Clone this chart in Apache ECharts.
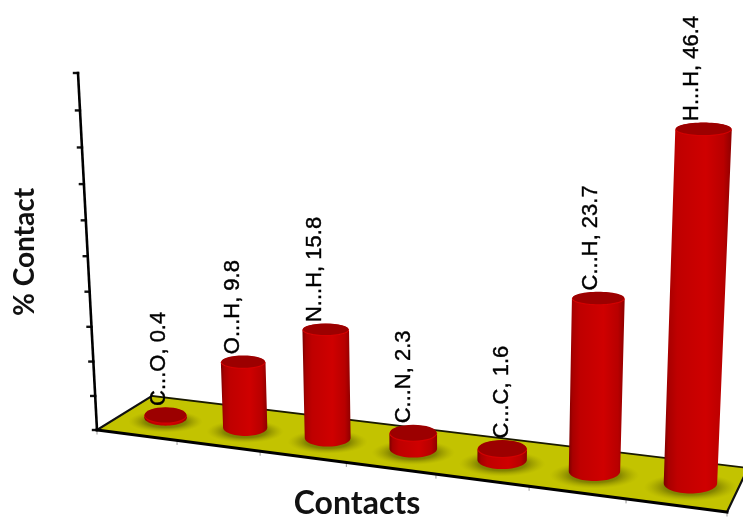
<!DOCTYPE html>
<html><head><meta charset="utf-8">
<style>html,body{margin:0;padding:0;background:#fff}#c{width:743px;height:518px}</style>
<script src="https://cdn.jsdelivr.net/npm/echarts@6/dist/echarts.min.js"></script>
</head><body><div id="c"></div>
<script>
const categories = ['C...O','O...H','N...H','C...N','C...C','C...H','H...H'];
const values = [0.4,9.8,15.8,2.3,1.6,23.7,46.4];
const yTicks = [0,5,10,15,20,25,30,35,40,45,50];
const xTicks = [0,1,2,3,4,5,6,7];

// picture plane: floor corners and the top of the value axis
const C0=[97,430], C1=[727,512], C2=[748,468], C3=[152,396], TOP=[78.5,73], VERT_VP=[448,7025];
const R_S=0.039, YMAX=50, XMAX=7, BAR_H=0.985, BAR_SHIFT=0.02;
const LABEL_NUDGE=[-6,-9,-10,-8,1,-6,-11];

const dx1=C1[0]-C2[0],dx2=C3[0]-C2[0],sx=C0[0]-C1[0]+C2[0]-C3[0];
const dy1=C1[1]-C2[1],dy2=C3[1]-C2[1],sy=C0[1]-C1[1]+C2[1]-C3[1];
const det=dx1*dy2-dx2*dy1;
const ga=(sx*dy2-dx2*sy)/det, gb=(dx1*sy-sx*dy1)/det;
const Ax=C1[0]*(1+ga)-C0[0],Ay=C1[1]*(1+ga)-C0[1];
const Bx=C3[0]*(1+gb)-C0[0],By=C3[1]*(1+gb)-C0[1];
const gc=(TOP[1]-C0[1])/(YMAX*(VERT_VP[1]-TOP[1]));
function project(s,d,h){
  const w=1+ga*s+gb*d+gc*h;
  return [(C0[0]+Ax*s+Bx*d+gc*VERT_VP[0]*h)/w,(C0[1]+Ay*s+By*d+gc*VERT_VP[1]*h)/w];
}
// chart coordinates -> library pixels -> unit fractions -> perspective
function place(api,x,v,d){
  const a=api.coord([0,0]),b=api.coord([XMAX,YMAX]),p=api.coord([x,v]);
  const s=(p[0]-a[0])/(b[0]-a[0]), h=(p[1]-a[1])/(b[1]-a[1])*YMAX;
  return project(s,d,h);
}
const line=(a,b,w,c)=>({type:'line',shape:{x1:a[0],y1:a[1],x2:b[0],y2:b[1]},style:{stroke:c,lineWidth:w,lineCap:'square'}});

function renderFloor(p,api){
  const k=[place(api,0,0,0),place(api,XMAX,0,0),place(api,XMAX,0,1),place(api,0,0,1)];
  return {type:'group',children:[
    {type:'polygon',shape:{points:k},style:{fill:'#c3c300'}},
    line(k[3],k[2],1.8,'#1a1a00'),
    line(k[0],k[3],2.2,'#111'),
    line(k[1],k[2],2.2,'#111')
  ]};
}
function renderShadow(p,api){
  const i=api.value(0), n=i+.5+BAR_SHIFT;
  const c=place(api,n,0,.5), l=place(api,n-R_S*XMAX,0,.5), r=place(api,n+R_S*XMAX,0,.5);
  const rx=(r[0]-l[0])/2;
  return {type:'circle',x:c[0],y:c[1]+4,scaleY:.3,shape:{cx:0,cy:0,r:rx*1.75},
    style:{fill:new echarts.graphic.RadialGradient(.5,.5,.5,[
      {offset:0,color:'rgba(95,95,0,.9)'},{offset:.55,color:'rgba(105,105,0,.7)'},{offset:.8,color:'rgba(130,130,0,.3)'},{offset:1,color:'rgba(160,160,0,0)'}])}};
}
function renderAxes(p,api){
  const ch=[];
  yTicks.forEach(t=>{const q=place(api,0,t,0);ch.push(line([q[0]-4,q[1]],q,2.4,'#111'));});
  xTicks.forEach(t=>{const q=place(api,t,0,0);ch.push(line(q,[q[0],q[1]+4],1,'#999'));});
  ch.push(line(place(api,0,0,0),place(api,XMAX,0,0),3,'#000'));
  ch.push(line(place(api,0,0,0),place(api,0,YMAX,0),2.6,'#000'));
  return {type:'group',children:ch};
}
function ratio(h){return .235+.145*Math.exp(-h/10);}
function renderBar(p,api){
  const i=api.value(0),v=api.value(1),n=.5+i+BAR_SHIFT,hv=v*BAR_H;
  const w0=R_S*XMAX;
  const b=place(api,n,0,.5),bl=place(api,n-w0,0,.5),br=place(api,n+w0,0,.5);
  const t=place(api,n,hv,.5),tl=place(api,n-w0,hv,.5),tr=place(api,n+w0,hv,.5);
  const rb=(br[0]-bl[0])/2, rt=(tr[0]-tl[0])/2;
  const ryb=rb*ratio(0), ryt=rt*ratio(v);
  const pts=[];
  for(let a=0;a<=32;a++){const th=Math.PI*a/32;pts.push([b[0]-rb*Math.cos(th),b[1]+ryb*Math.sin(th)]);}
  for(let a=0;a<=32;a++){const th=Math.PI*a/32;pts.push([t[0]+rt*Math.cos(th),t[1]+ryt*Math.sin(th)]);}
  const body=new echarts.graphic.LinearGradient(0,0,1,0,[
    {offset:0,color:'#7c0000'},{offset:.07,color:'#a80000'},{offset:.2,color:'#bf0000'},
    {offset:.62,color:'#cf0000'},{offset:.88,color:'#b80000'},{offset:1,color:'#8e0000'}]);
  const label=categories[i]+', '+v;
  return {type:'group',children:[
    {type:'polygon',shape:{points:pts},style:{fill:body}},
    {type:'ellipse',shape:{cx:t[0],cy:t[1]+.8,rx:rt,ry:ryt},style:{fill:'#d40000'}},
    {type:'ellipse',shape:{cx:t[0],cy:t[1],rx:rt-.6,ry:ryt-.4},style:{fill:'#9c0000'}},
    {type:'text',x:t[0]+LABEL_NUDGE[i]-1,y:t[1]-ryt-1,rotation:Math.PI/2,
     style:{text:label,x:0,y:0,align:'left',verticalAlign:'middle',fill:'#000',stroke:'#000',lineWidth:.4,
       font:'22px "Liberation Sans"'}}
  ]};
}
const idx=categories.map((c,i)=>[i,values[i]]);
const chart=echarts.init(document.getElementById('c'),null,{renderer:'canvas'});
chart.setOption({
  animation:false,backgroundColor:'#fff',
  grid:{left:0,right:0,top:0,bottom:0},
  xAxis:{type:'value',min:0,max:XMAX,show:false},
  yAxis:{type:'value',min:0,max:YMAX,show:false},
  graphic:[
    {type:'text',x:25,y:252,rotation:Math.PI/2,style:{text:'% Contact',align:'center',verticalAlign:'middle',fill:'#111',font:'bold 28px Lato'}},
    {type:'text',x:357,y:504,style:{text:'Contacts',align:'center',verticalAlign:'middle',fill:'#111',font:'bold 32px Lato'}}
  ],
  series:[
    {type:'custom',coordinateSystem:'cartesian2d',clip:false,z:1,data:[[0,0]],renderItem:renderFloor,silent:true},
    {type:'custom',coordinateSystem:'cartesian2d',clip:false,z:2,data:idx,renderItem:renderShadow,silent:true},
    {type:'custom',coordinateSystem:'cartesian2d',clip:false,z:3,data:[[0,0]],renderItem:renderAxes,silent:true},
    {type:'custom',coordinateSystem:'cartesian2d',clip:false,z:4,data:idx,renderItem:renderBar,silent:true}
  ]
});
</script></body></html>
